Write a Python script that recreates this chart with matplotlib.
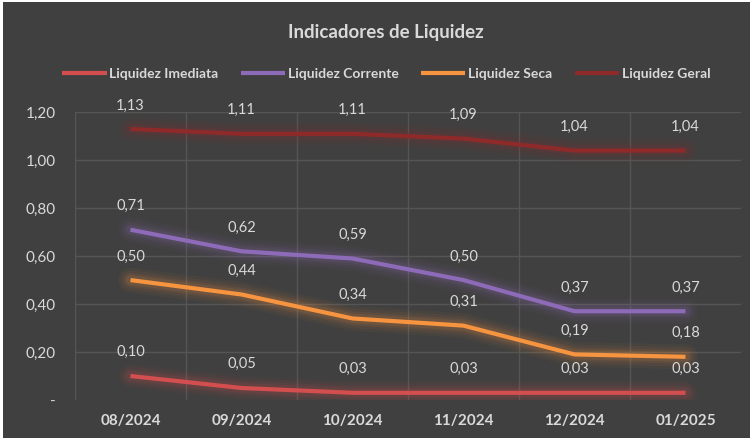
import matplotlib
matplotlib.use("Agg")
import matplotlib.pyplot as plt
from matplotlib.patches import Rectangle

categories = ["08/2024", "09/2024", "10/2024", "11/2024", "12/2024", "01/2025"]
liq_imediata = [0.10, 0.05, 0.03, 0.03, 0.03, 0.03]
liq_corrente = [0.71, 0.62, 0.59, 0.50, 0.37, 0.37]
liq_seca = [0.50, 0.44, 0.34, 0.31, 0.19, 0.18]
liq_geral = [1.13, 1.11, 1.11, 1.09, 1.04, 1.04]
series_names = ["Liquidez Imediata", "Liquidez Corrente", "Liquidez Seca", "Liquidez Geral"]
yticks = [0, 0.2, 0.4, 0.6, 0.8, 1.0, 1.2]
ytick_labels = ["-", "0,20", "0,40", "0,60", "0,80", "1,00", "1,20"]

plt.rcParams['font.family'] = ['Lato', 'DejaVu Sans']

BG = "#404040"
TXT = "#d9d9d9"
GRID = "#555555"

fig = plt.figure(figsize=(7.5, 4.38), dpi=100)
fig.patch.set_facecolor("white")
fig.add_artist(Rectangle((3/750, 0), 1, 1 - 2/438, transform=fig.transFigure,
                         facecolor=BG, edgecolor="none", zorder=-10))

ax = fig.add_axes([0.1, 0.0868, 0.888, 0.657])
ax.set_facecolor(BG)
ax.patch.set_alpha(0)

x = list(range(len(categories)))
colors = ["#d34f4f", "#8d6bb8", "#f7943f", "#8e2a2a"]
data = [liq_imediata, liq_corrente, liq_seca, liq_geral]

for vals, c, name in zip(data, colors, series_names):
    for w, a in [(18, 0.04), (14, 0.06), (10, 0.08), (7, 0.11)]:
        ax.plot(x, vals, color=c, lw=w, alpha=a, solid_joinstyle="round",
                solid_capstyle="round", zorder=2)
    ax.plot(x, vals, color=c, lw=3, solid_joinstyle="round", solid_capstyle="butt",
            zorder=3, label=name)
    for xi, v in zip(x, vals):
        ax.annotate(f"{v:.2f}".replace(".", ","), (xi, v), xytext=(0, 17),
                    textcoords="offset points", ha="center", va="center",
                    color=TXT, fontsize=10.5, zorder=4)

ax.set_xlim(-0.5, len(categories) - 0.5)
ax.set_ylim(0, 1.2)
ax.set_yticks(yticks)
ax.set_yticklabels(ytick_labels)
ax.set_xticks(x)
ax.set_xticklabels(categories, fontweight="bold")
ax.tick_params(axis="both", length=0, colors=TXT, labelsize=11)
ax.tick_params(axis="x", pad=10)
ax.tick_params(axis="y", pad=14)

for s in ax.spines.values():
    s.set_visible(False)
for yv in yticks[1:]:
    ax.axhline(yv, color=GRID, lw=1, zorder=0)
for b in [i - 0.5 for i in range(len(categories))]:
    ax.axvline(b, color=GRID, lw=1, zorder=0)

fig.text(0.515, 0.925, "Indicadores de Liquidez", ha="center", va="center",
         color=TXT, fontsize=13.5, fontweight="bold")

handles, labels = ax.get_legend_handles_labels()
leg = fig.legend(handles, labels, loc="center", bbox_to_anchor=(0.515, 0.832), ncol=4,
                 frameon=False, fontsize=10, handlelength=3.2, handletextpad=0.2,
                 columnspacing=1.6)
for t in leg.get_texts():
    t.set_color(TXT)
    t.set_fontweight("bold")

fig.savefig("out.png", dpi=100, facecolor=fig.get_facecolor())
